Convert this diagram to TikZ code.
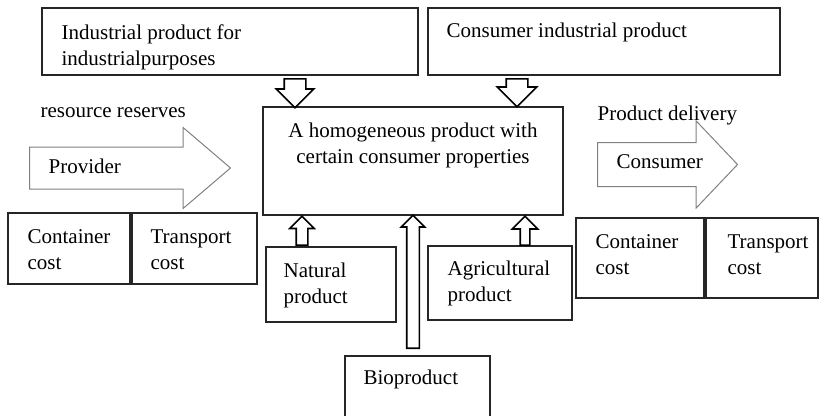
\documentclass[tikz,border=0pt]{standalone}
\usepackage{fontspec}
\setmainfont{Liberation Serif}
\usetikzlibrary{shapes.arrows}

\begin{document}
\begin{tikzpicture}[x = 1pt, y = -1pt, line width = 1.2pt,
                        box/.style = {rectangle, draw = black!85, inner sep = 0pt},
                        txt/.style = {inner sep = 0pt, align = left, font = \fontsize{21}{26}\selectfont},
                        bigarrow/.style = {single arrow, draw = gray, line width = 1pt, inner xsep = 0pt, single arrow head indent = 0pt, anchor = tail},
                        smallarrow/.style = {single arrow, draw = black, line width = 1.6pt, inner xsep = 0pt, single arrow head indent = 0pt, anchor = tail}]
      \useasboundingbox (0, 0) rectangle (819, 415);

      \node [box, minimum width = 376pt, minimum height = 67pt] (ind) at (230, 41.5){};
      \node [box, minimum width = 352pt, minimum height = 67pt] (con) at (604, 41.5){};
      \node [box, minimum width = 300pt, minimum height = 108pt] (prod) at (413, 161){};
      \node [box, minimum width = 122pt, minimum height = 71pt] (lcont) at (69, 248.5){};
      \node [box, minimum width = 125pt, minimum height = 71pt] (ltrans) at (194.5, 248.5){};
      \node [box, minimum width = 130pt, minimum height = 75pt] (nat) at (331, 284.5){};
      \node [box, minimum width = 144pt, minimum height = 74pt] (agr) at (500, 283){};
      \node [box, minimum width = 145pt, minimum height = 64pt] (bio) at (417.5, 388){};
      \node [box, minimum width = 128pt, minimum height = 80pt] (rcont) at (640, 258){};
      \node [box, minimum width = 112pt, minimum height = 80pt] (rtrans) at (762, 258){};

      \node [txt, anchor = north west] (indtext) at (61, 23.7){Industrial product for\\industrialpurposes};
      \node [txt, anchor = north west] (context) at (446, 22.7){Consumer industrial product};
      \node [txt, anchor = north, align = center] (prodtext) at (413, 122.7){A homogeneous product with\\certain consumer properties};
      \node [txt, anchor = base west] (restext) at (40, 117){resource reserves};
      \node [txt, anchor = base west] (delivtext) at (597, 120){Product delivery};
      \node [txt, anchor = north west] (lconttext) at (27, 228.7){Container\\cost};
      \node [txt, anchor = north west] (ltranstext) at (150, 228.7){Transport\\cost};
      \node [txt, anchor = north west] (nattext) at (283, 262.7){Natural\\product};
      \node [txt, anchor = north west] (agrtext) at (447, 260.7){Agricultural\\product};
      \node [txt, anchor = base west] (biotext) at (363, 384){Bioproduct};
      \node [txt, anchor = north west] (rconttext) at (595, 233.7){Container\\cost};
      \node [txt, anchor = north west] (rtranstext) at (727, 233.7){Transport\\cost};

      \node [bigarrow, inner ysep = 20.5pt, minimum height = 201pt, single arrow head extend = 19.5pt, single arrow tip angle = 81] (provider) at (29, 168){};
      \node [bigarrow, inner ysep = 21.5pt, minimum height = 140pt, single arrow head extend = 21.5pt, single arrow tip angle = 93] (consumer) at (597, 164.5){};
      \node [txt, anchor = base west] (provtext) at (48, 173){Provider};
      \node [txt, anchor = base west] (constext) at (616, 168){Consumer};

      \node [smallarrow, rotate = -90, inner ysep = 10pt, minimum height = 29pt, single arrow head extend = 8pt] (indarrow) at (295, 78){};
      \node [smallarrow, rotate = -90, inner ysep = 10pt, minimum height = 28pt, single arrow head extend = 9pt] (conarrow) at (517, 78){};
      \node [smallarrow, rotate = 90, inner ysep = 5pt, minimum height = 29pt, single arrow head extend = 6.5pt] (natarrow) at (302, 246){};
      \node [smallarrow, rotate = 90, inner ysep = 5.5pt, minimum height = 133pt, single arrow head extend = 5.5pt] (bioarrow) at (413, 349){};
      \node [smallarrow, rotate = 90, inner ysep = 4pt, minimum height = 29pt, single arrow head extend = 8pt] (agrarrow) at (525, 246){};
      \end{tikzpicture}
\end{document}
